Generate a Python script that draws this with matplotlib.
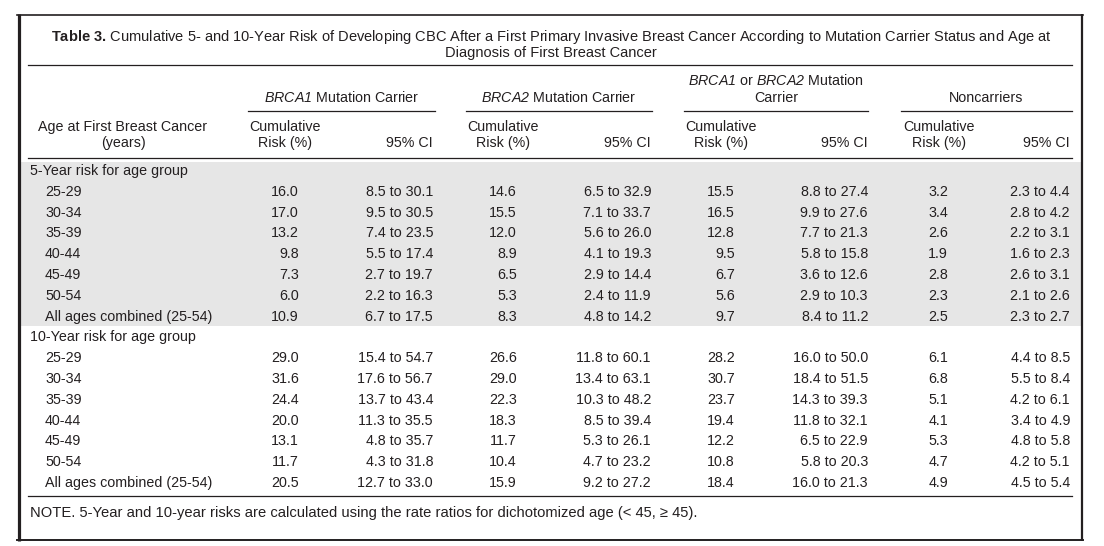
import matplotlib
matplotlib.use("Agg")
import matplotlib.pyplot as plt
from matplotlib.patches import Rectangle

# ---- table data ----
age_groups = ['25-29', '30-34', '35-39', '40-44', '45-49', '50-54', 'All ages combined (25-54)']
sections = ['5-Year risk for age group', '10-Year risk for age group']

brca1_5_risk = [16.0, 17.0, 13.2, 9.8, 7.3, 6.0, 10.9]
brca1_5_ci = ['8.5 to 30.1', '9.5 to 30.5', '7.4 to 23.5', '5.5 to 17.4', '2.7 to 19.7', '2.2 to 16.3', '6.7 to 17.5']
brca2_5_risk = [14.6, 15.5, 12.0, 8.9, 6.5, 5.3, 8.3]
brca2_5_ci = ['6.5 to 32.9', '7.1 to 33.7', '5.6 to 26.0', '4.1 to 19.3', '2.9 to 14.4', '2.4 to 11.9', '4.8 to 14.2']
either_5_risk = [15.5, 16.5, 12.8, 9.5, 6.7, 5.6, 9.7]
either_5_ci = ['8.8 to 27.4', '9.9 to 27.6', '7.7 to 21.3', '5.8 to 15.8', '3.6 to 12.6', '2.9 to 10.3', '8.4 to 11.2']
non_5_risk = [3.2, 3.4, 2.6, 1.9, 2.8, 2.3, 2.5]
non_5_ci = ['2.3 to 4.4', '2.8 to 4.2', '2.2 to 3.1', '1.6 to 2.3', '2.6 to 3.1', '2.1 to 2.6', '2.3 to 2.7']

brca1_10_risk = [29.0, 31.6, 24.4, 20.0, 13.1, 11.7, 20.5]
brca1_10_ci = ['15.4 to 54.7', '17.6 to 56.7', '13.7 to 43.4', '11.3 to 35.5', '4.8 to 35.7', '4.3 to 31.8', '12.7 to 33.0']
brca2_10_risk = [26.6, 29.0, 22.3, 18.3, 11.7, 10.4, 15.9]
brca2_10_ci = ['11.8 to 60.1', '13.4 to 63.1', '10.3 to 48.2', '8.5 to 39.4', '5.3 to 26.1', '4.7 to 23.2', '9.2 to 27.2']
either_10_risk = [28.2, 30.7, 23.7, 19.4, 12.2, 10.8, 18.4]
either_10_ci = ['16.0 to 50.0', '18.4 to 51.5', '14.3 to 39.3', '11.8 to 32.1', '6.5 to 22.9', '5.8 to 20.3', '16.0 to 21.3']
non_10_risk = [6.1, 6.8, 5.1, 4.1, 5.3, 4.7, 4.9]
non_10_ci = ['4.4 to 8.5', '5.5 to 8.4', '4.2 to 6.1', '3.4 to 4.9', '4.8 to 5.8', '4.2 to 5.1', '4.5 to 5.4']

# \mathrm is mapped to the italic face below, so gene names come out italic (digits too)
group_labels = [r'$\mathrm{BRCA1}$ Mutation Carrier',
                r'$\mathrm{BRCA2}$ Mutation Carrier',
                r'$\mathrm{BRCA1}$ or $\mathrm{BRCA2}$ Mutation' + '\nCarrier',
                'Noncarriers']

title_1 = (r'$\mathbf{Table\ 3.}\,$Cumulative 5- and 10-Year Risk of Developing CBC After a First Primary '
           'Invasive Breast Cancer According to Mutation Carrier Status and Age at')
title_2 = 'Diagnosis of First Breast Cancer'
note = 'NOTE. 5-Year and 10-year risks are calculated using the rate ratios for dichotomized age (< 45, \u2265 45).'

# ---- style ----
plt.rcParams['font.family'] = ['Liberation Sans', 'DejaVu Sans']
plt.rcParams['mathtext.fontset'] = 'custom'
plt.rcParams['mathtext.rm'] = 'Liberation Sans:italic'
plt.rcParams['mathtext.it'] = 'Liberation Sans:italic'
plt.rcParams['mathtext.bf'] = 'Liberation Sans:bold'
ink = '#231f20'
fs = 10.3

fig = plt.figure(figsize=(11.04, 5.46), dpi=100)
ax = fig.add_axes([0, 0, 1, 1])
ax.set_xlim(0, 1104)
ax.set_ylim(546, 0)
ax.axis('off')

# frame
ax.plot([18.5, 18.5], [14, 541], color=ink, lw=2.3, solid_capstyle='butt')
ax.plot([17, 1083], [15, 15], color=ink, lw=1.2)
ax.plot([1082, 1082], [14, 541], color=ink, lw=1.6, solid_capstyle='butt')
ax.plot([17, 1083], [540, 540], color=ink, lw=1.4)

# shading for the 5-year block
ax.add_patch(Rectangle((20, 162), 1061, 164, facecolor='#e6e6e6', edgecolor='none'))

# rules
ax.plot([28, 1072], [65, 65], color=ink, lw=0.9)
ax.plot([28, 1072], [158, 158], color=ink, lw=0.9)
ax.plot([28, 1072], [496, 496], color=ink, lw=0.9)
group_spans = [(248, 435), (466, 652), (684, 868), (901, 1072)]
for x0, x1 in group_spans:
    ax.plot([x0, x1], [111, 111], color=ink, lw=0.9)

# title
ax.text(551, 37, title_1, ha='center', va='center', fontsize=10.55, color=ink)
ax.text(551, 53, title_2, ha='center', va='center', fontsize=10.55, color=ink)

# headers
ax.text(123, 135, 'Age at First Breast Cancer\n(years)', ha='center', va='center',
        fontsize=fs, color=ink, linespacing=1.25)
for (x0, x1), lab in zip(group_spans, group_labels):
    ax.text((x0 + x1) / 2, 105, lab, ha='center', va='bottom', fontsize=fs, color=ink, linespacing=1.25)

risk_right = [299, 517, 735, 948]
ci_right = [433, 651, 868, 1070]
risk_center = [285, 503, 721, 939]
for xc, xr in zip(risk_center, ci_right):
    ax.text(xc, 135, 'Cumulative\nRisk (%)', ha='center', va='center', fontsize=fs, color=ink, linespacing=1.25)
    ax.text(xr, 143, '95% CI', ha='right', va='center', fontsize=fs, color=ink)

# body
blocks = [
    [(brca1_5_risk, brca1_5_ci), (brca2_5_risk, brca2_5_ci), (either_5_risk, either_5_ci), (non_5_risk, non_5_ci)],
    [(brca1_10_risk, brca1_10_ci), (brca2_10_risk, brca2_10_ci), (either_10_risk, either_10_ci), (non_10_risk, non_10_ci)],
]
row_h = 20.8
y = 171
for sec, cols in zip(sections, blocks):
    ax.text(30, y, sec, ha='left', va='center', fontsize=fs, color=ink)
    for i, age in enumerate(age_groups):
        yy = y + row_h * (i + 1)
        ax.text(45, yy, age, ha='left', va='center', fontsize=fs, color=ink)
        for (risk, ci), xr, xc in zip(cols, risk_right, ci_right):
            ax.text(xr, yy, f'{risk[i]:.1f}', ha='right', va='center', fontsize=fs, color=ink)
            ax.text(xc, yy, ci[i], ha='right', va='center', fontsize=fs, color=ink)
    y += row_h * 8

ax.text(30, 513, note, ha='left', va='center', fontsize=10.6, color=ink)

fig.savefig('out.png', dpi=100)
